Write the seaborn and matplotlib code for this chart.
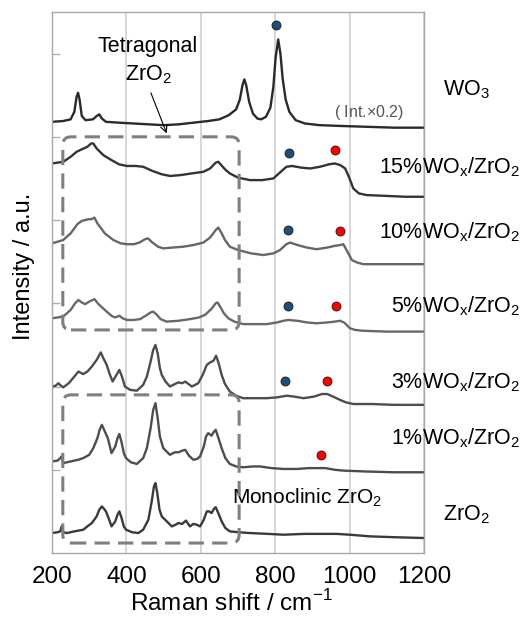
import matplotlib
matplotlib.use("Agg")
import matplotlib.pyplot as plt
from matplotlib.patches import FancyBboxPatch
import seaborn as sns

sns.set_theme(style="white")
plt.rcParams['font.family'] = ['Liberation Sans', 'DejaVu Sans']
plt.rcParams['mathtext.fontset'] = 'custom'
plt.rcParams['mathtext.rm'] = 'Liberation Sans'
plt.rcParams['text.color'] = 'black'
plt.rcParams['axes.labelcolor'] = 'black'

# ---------------------------------------------------------------------
# Спектри (зсунуті по вертикалі)
# ---------------------------------------------------------------------
wo3_x = [200, 230, 250, 260, 266, 270, 274, 280, 290, 310, 320, 327, 334, 345, 380, 420, 460, 500,
         540, 580, 620, 650, 675, 695, 705, 712, 717, 722, 730, 740, 752, 762, 775, 787, 795, 801,
         808, 814, 820, 828, 838, 855, 880, 920, 980, 1050, 1120, 1200]
wo3_y = [5.18, 5.19, 5.21, 5.30, 5.48, 5.53, 5.45, 5.25, 5.20, 5.21, 5.25, 5.27, 5.22, 5.18, 5.17,
         5.16, 5.15, 5.14, 5.15, 5.17, 5.19, 5.21, 5.26, 5.33, 5.45, 5.62, 5.69, 5.62, 5.42, 5.28,
         5.22, 5.21, 5.24, 5.35, 5.60, 5.95, 6.17, 6.00, 5.70, 5.45, 5.30, 5.20, 5.16, 5.14, 5.13,
         5.12, 5.11, 5.11]

w15_x = [200, 215, 230, 250, 266, 280, 295, 305, 311, 320, 338, 360, 380, 401, 425, 445, 470, 495,
         517, 545, 575, 607, 625, 640, 647, 655, 665, 678, 700, 732, 765, 795, 815, 830, 845, 870,
         894, 920, 945, 960, 975, 988, 998, 1010, 1025, 1046, 1100, 1150, 1200]
w15_y = [4.68, 4.69, 4.70, 4.76, 4.82, 4.85, 4.88, 4.92, 4.92, 4.86, 4.78, 4.72, 4.67, 4.65, 4.65,
         4.64, 4.59, 4.55, 4.53, 4.54, 4.56, 4.58, 4.62, 4.69, 4.70, 4.66, 4.61, 4.56, 4.51, 4.48,
         4.48, 4.50, 4.58, 4.64, 4.65, 4.63, 4.62, 4.64, 4.67, 4.68, 4.66, 4.62, 4.52, 4.38, 4.32,
         4.30, 4.29, 4.28, 4.28]

w10_x = [200, 215, 230, 250, 268, 280, 298, 306, 314, 322, 342, 365, 385, 401, 420, 435, 450, 458,
         470, 485, 499, 525, 553, 580, 607, 625, 640, 647, 655, 665, 678, 700, 735, 768, 795, 813,
         830, 840, 860, 885, 911, 940, 960, 975, 983, 993, 1006, 1020, 1037, 1100, 1200]
w10_y = [3.72, 3.74, 3.76, 3.84, 3.95, 3.99, 4.01, 4.01, 4.03, 3.96, 3.84, 3.76, 3.72, 3.71, 3.71,
         3.73, 3.77, 3.78, 3.73, 3.68, 3.66, 3.67, 3.68, 3.70, 3.73, 3.79, 3.88, 3.91, 3.85, 3.76,
         3.68, 3.64, 3.60, 3.58, 3.60, 3.64, 3.71, 3.73, 3.70, 3.67, 3.65, 3.67, 3.69, 3.70, 3.71,
         3.63, 3.52, 3.49, 3.47, 3.47, 3.47]

w5_x = [200, 215, 230, 250, 262, 271, 280, 289, 300, 314, 325, 347, 360, 369, 381, 390, 401, 420,
        437, 455, 465, 472, 480, 492, 508, 540, 571, 595, 611, 628, 640, 645, 652, 662, 674, 690,
        714, 745, 777, 805, 822, 835, 860, 885, 911, 940, 960, 974, 985, 1001, 1015, 1037, 1100, 1200]
w5_y = [2.82, 2.83, 2.84, 2.92, 3.00, 3.04, 3.01, 2.99, 3.02, 3.05, 2.99, 2.90, 2.85, 2.83, 2.85,
        2.82, 2.80, 2.80, 2.81, 2.86, 2.89, 2.90, 2.87, 2.81, 2.78, 2.79, 2.81, 2.83, 2.86, 2.93,
        3.00, 3.01, 2.96, 2.88, 2.82, 2.78, 2.75, 2.75, 2.75, 2.77, 2.79, 2.80, 2.79, 2.77, 2.76,
        2.77, 2.78, 2.79, 2.77, 2.70, 2.68, 2.67, 2.66, 2.66]

w3_x = [200, 210, 217, 224, 230, 245, 260, 271, 284, 295, 307, 320, 331, 338, 347, 355, 363, 372,
        381, 388, 396, 410, 428, 445, 455, 465, 472, 478, 484, 490, 495, 505, 517, 530, 540, 550,
        558, 567, 576, 593, 605, 616, 625, 634, 641, 648, 656, 665, 678, 695, 714, 745, 777, 805,
        831, 850, 876, 905, 925, 940, 955, 974, 990, 1010, 1060, 1120, 1200]
w3_y = [2.00, 2.01, 2.04, 2.01, 1.99, 2.04, 2.12, 2.18, 2.15, 2.18, 2.24, 2.32, 2.41, 2.34, 2.26,
        2.15, 2.06, 2.13, 2.20, 2.12, 2.00, 1.96, 1.95, 2.02, 2.12, 2.30, 2.44, 2.50, 2.40, 2.22,
        2.14, 2.06, 2.00, 2.03, 2.05, 2.04, 2.06, 2.03, 2.00, 2.04, 2.14, 2.26, 2.29, 2.31, 2.37,
        2.28, 2.14, 2.03, 1.94, 1.89, 1.86, 1.86, 1.86, 1.87, 1.89, 1.88, 1.86, 1.88, 1.91, 1.91,
        1.88, 1.84, 1.81, 1.79, 1.79, 1.78, 1.78]

w1_x = [200, 215, 222, 226, 230, 250, 270, 284, 300, 311, 322, 328, 334, 342, 350, 360, 370, 376,
        381, 387, 393, 399, 412, 428, 445, 455, 465, 472, 478, 484, 490, 499, 508, 517, 530, 540,
        550, 558, 568, 580, 590, 598, 608, 614, 620, 629, 634, 640, 646, 656, 666, 678, 695, 714,
        740, 759, 790, 822, 860, 890, 911, 935, 960, 983, 1040, 1120, 1200]
w1_y = [1.10, 1.11, 1.14, 1.16, 1.08, 1.10, 1.12, 1.14, 1.18, 1.26, 1.38, 1.48, 1.54, 1.46, 1.38,
        1.20, 1.28, 1.38, 1.43, 1.33, 1.20, 1.14, 1.09, 1.07, 1.14, 1.26, 1.50, 1.72, 1.80, 1.62,
        1.40, 1.26, 1.22, 1.18, 1.21, 1.21, 1.23, 1.24, 1.17, 1.12, 1.13, 1.16, 1.28, 1.40, 1.44,
        1.41, 1.45, 1.48, 1.40, 1.26, 1.14, 1.07, 1.04, 1.03, 1.04, 1.04, 1.02, 1.01, 1.01, 1.02,
        1.02, 1.02, 1.00, 0.99, 0.98, 0.97, 0.97]

zr_x = [200, 215, 222, 226, 230, 240, 260, 284, 298, 307, 320, 327, 334, 340, 345, 352, 360, 370,
        376, 381, 387, 393, 399, 415, 432, 445, 459, 468, 474, 478, 483, 489, 495, 504, 513, 522,
        532, 540, 550, 560, 566, 571, 580, 589, 598, 608, 616, 622, 629, 635, 640, 647, 656, 666,
        678, 700, 732, 780, 822, 880, 940, 965, 1000, 1055, 1120, 1200]
zr_y = [0.24, 0.25, 0.26, 0.32, 0.25, 0.24, 0.26, 0.28, 0.33, 0.36, 0.44, 0.52, 0.56, 0.53, 0.50,
        0.42, 0.32, 0.38, 0.46, 0.50, 0.42, 0.32, 0.28, 0.25, 0.24, 0.28, 0.40, 0.62, 0.80, 0.84,
        0.72, 0.52, 0.44, 0.40, 0.36, 0.32, 0.34, 0.36, 0.35, 0.39, 0.35, 0.32, 0.35, 0.34, 0.32,
        0.40, 0.50, 0.50, 0.48, 0.53, 0.55, 0.48, 0.38, 0.30, 0.26, 0.25, 0.24, 0.23, 0.22, 0.23,
        0.23, 0.23, 0.22, 0.20, 0.19, 0.18]

# Позначки піків WOx (сині) та другої смуги (червоні)
blue_x = [803, 838, 835, 835, 826]
blue_y = [6.34, 4.80, 3.88, 2.97, 2.07]
red_x = [961, 974, 963, 938, 922]
red_y = [4.84, 3.87, 2.97, 2.07, 1.18]

sample_labels = ['WO$_\\mathregular{3}$', '15%WO$_\\mathregular{x}$/ZrO$_\\mathregular{2}$',
                 '10%WO$_\\mathregular{x}$/ZrO$_\\mathregular{2}$', '5%WO$_\\mathregular{x}$/ZrO$_\\mathregular{2}$',
                 '3%WO$_\\mathregular{x}$/ZrO$_\\mathregular{2}$', '1%WO$_\\mathregular{x}$/ZrO$_\\mathregular{2}$',
                 'ZrO$_\\mathregular{2}$']
label_y = [5.565, 4.63, 3.86, 2.96, 2.055, 1.38, 0.457]
xticks = [200, 400, 600, 800, 1000, 1200]

spectra = [(wo3_x, wo3_y, '#2a2a2a'), (w15_x, w15_y, '#333333'), (w10_x, w10_y, '#666666'),
           (w5_x, w5_y, '#686868'), (w3_x, w3_y, '#4d4d4d'), (w1_x, w1_y, '#4d4d4d'),
           (zr_x, zr_y, '#3a3a3a')]

fig = plt.figure(figsize=(5.26, 6.17), dpi=100)
ax = fig.add_axes([0.0989, 0.1037, 0.7072, 0.8769])

for sx, sy, col in spectra:
    sns.lineplot(x=sx, y=sy, ax=ax, color=col, lw=1.7, sort=False, estimator=None)

sns.scatterplot(x=blue_x, y=blue_y, ax=ax, color='#1f4e79', edgecolor='#1a1a1a', s=42, linewidth=0.6, zorder=5)
sns.scatterplot(x=red_x, y=red_y, ax=ax, color='#ff0000', edgecolor='#1a1a1a', s=42, linewidth=0.6, zorder=5)

ax.set_xlim(200, 1200)
ax.set_ylim(0, 6.5)
ax.set_xticks(xticks)
ax.set_xticklabels([str(t) for t in xticks], fontsize=17.5)
ax.set_yticks([1, 2, 3, 4, 5, 6])
ax.set_yticklabels([])
ax.tick_params(axis='x', length=0, pad=9, colors='black')
ax.tick_params(axis='y', direction='in', length=6, width=1, color='#b0b0b0', left=True)
ax.grid(axis='x', color='#cfcfcf', lw=1.2)
for sp in ax.spines.values():
    sp.set_color('#a8a8a8')
    sp.set_linewidth(1.0)

ax.set_xlabel('Raman shift / cm$^{\\mathregular{-1}}$', fontsize=17.5)
ax.set_ylabel('Intensity / a.u.', fontsize=17)
ax.xaxis.set_label_coords(0.481, -0.068)
ax.yaxis.set_label_coords(-0.045, 0.53)

# Підписи зразків праворуч
for lab, ly in zip(sample_labels, label_y):
    if lab.startswith('WO') or lab.startswith('ZrO'):
        ax.text(1313, ly, lab, fontsize=15.5, ha='center', va='center', clip_on=False)
    else:
        ax.text(1458, ly, lab, fontsize=15.5, ha='right', va='center', clip_on=False)

ax.text(1052, 5.29, '( Int.$\\times$0.2)', fontsize=11.5, color='#555555', ha='center', va='center')

# Пунктирні рамки: тетрагональна і моноклінна фази
asp = (0.372 / 83.2)
for x0, x1, y0, y1 in [(229, 703, 2.68, 5.00), (229, 703, 0.12, 1.90)]:
    box = FancyBboxPatch((x0, y0), x1 - x0, y1 - y0, boxstyle='round,pad=0,rounding_size=22',
                         mutation_aspect=asp, fill=False, ec='#7f7f7f', lw=2.2,
                         ls=(0, (5, 2.7)), zorder=4)
    ax.add_patch(box)

ax.text(458, 6.08, 'Tetragonal', fontsize=15.5, ha='center', va='center')
ax.text(458, 5.75, 'ZrO$_\\mathregular{2}$', fontsize=15.5, ha='center', va='center')
ax.annotate('', xy=(511, 5.01), xytext=(463, 5.56),
            arrowprops=dict(arrowstyle='->', color='black', lw=0.8))
ax.text(684, 0.66, 'Monoclinic ZrO$_\\mathregular{2}$', fontsize=15, ha='left', va='center')

plt.savefig('out.png', dpi=100)
